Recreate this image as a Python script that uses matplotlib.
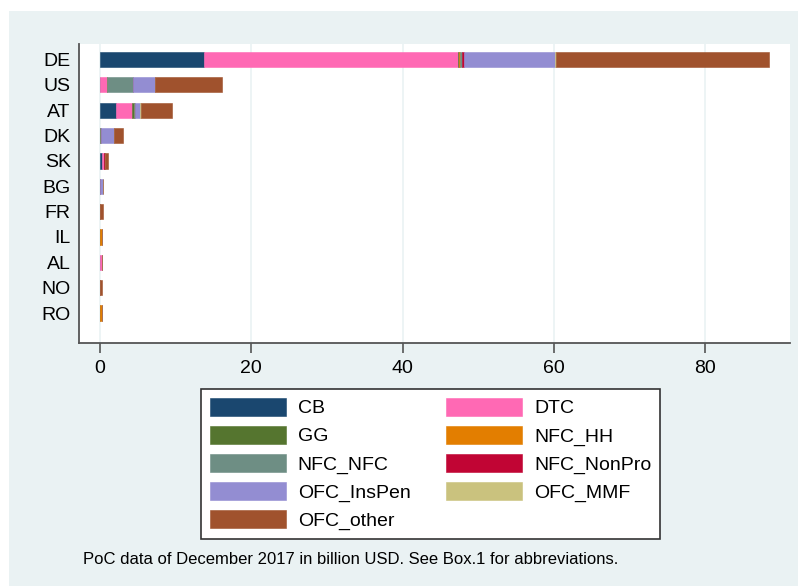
import matplotlib
matplotlib.use("Agg")
import matplotlib.pyplot as plt
from matplotlib.patches import Rectangle, Patch
import numpy as np

plt.rcParams['font.family'] = ['Liberation Sans', 'DejaVu Sans']

countries = ['DE', 'US', 'AT', 'DK', 'SK', 'BG', 'FR', 'IL', 'AL', 'NO', 'RO']

CB         = [13.7, 0.0, 2.1, 0.0, 0.2, 0.0, 0.0, 0.0, 0.0, 0.0, 0.0]
DTC        = [33.6, 0.9, 2.1, 0.0, 0.3, 0.0, 0.0, 0.0, 0.3, 0.0, 0.0]
GG         = [0.2, 0.0, 0.3, 0.0, 0.0, 0.0, 0.0, 0.0, 0.0, 0.0, 0.0]
NFC_HH     = [0.1, 0.0, 0.0, 0.0, 0.0, 0.0, 0.0, 0.3, 0.0, 0.0, 0.3]
NFC_NFC    = [0.3, 3.5, 0.1, 0.1, 0.0, 0.0, 0.0, 0.0, 0.0, 0.0, 0.0]
NFC_NonPro = [0.2, 0.0, 0.0, 0.0, 0.1, 0.0, 0.0, 0.0, 0.0, 0.0, 0.0]
OFC_InsPen = [12.1, 2.9, 0.7, 1.8, 0.1, 0.35, 0.0, 0.0, 0.0, 0.0, 0.0]
OFC_MMF    = [0.1, 0.0, 0.1, 0.0, 0.0, 0.0, 0.0, 0.0, 0.0, 0.0, 0.0]
OFC_other  = [28.2, 8.8, 4.1, 1.2, 0.3, 0.0, 0.35, 0.0, 0.0, 0.3, 0.0]

series_names = ['CB', 'DTC', 'GG', 'NFC_HH', 'NFC_NFC', 'NFC_NonPro',
                'OFC_InsPen', 'OFC_MMF', 'OFC_other']
series_values = [CB, DTC, GG, NFC_HH, NFC_NFC, NFC_NonPro,
                 OFC_InsPen, OFC_MMF, OFC_other]
series_colors = ['#1a476f', '#ff69b4', '#55752f', '#e37e00', '#6e8e84',
                 '#c10534', '#938dd2', '#cac27e', '#a0522d']

xticks = [0, 20, 40, 60, 80]
note = "PoC data of December 2017 in billion USD. See Box.1 for abbreviations."

W, H = 798, 586
BG = '#eaf2f3'
fig = plt.figure(figsize=(W / 100, H / 100), dpi=100, facecolor='white')

# light graph region behind everything
fig.patches.append(Rectangle((9 / W, 0), 1 - 9 / W, (H - 11) / H,
                             transform=fig.transFigure, facecolor=BG,
                             edgecolor='none', zorder=-10))

ax = fig.add_axes([79 / W, (H - 343) / H, (790 - 79) / W, (343 - 44) / H])
ax.set_zorder(1)
ax.set_facecolor('white')

ypos = np.arange(len(countries))
left = np.zeros(len(countries))
for name, vals, col in zip(series_names, series_values, series_colors):
    v = np.array(vals, dtype=float)
    ax.barh(ypos, v, left=left, height=0.6, color=col, edgecolor=col,
            linewidth=0.4, zorder=3)
    left += v

ax.set_ylim(11.18, -0.61)
ax.set_xlim(-2.78, 91.24)
ax.set_yticks(ypos)
ax.set_yticklabels(countries, fontsize=14)
ax.set_xticks(xticks)
ax.set_xticklabels([str(t) for t in xticks], fontsize=14)
ax.tick_params(axis='y', length=0, pad=6)
ax.tick_params(axis='x', length=7, width=1.2, color='#555555', pad=5)
ax.xaxis.grid(True, color=BG, linewidth=1.2, zorder=0)
ax.set_axisbelow(True)
for s in ['top', 'right']:
    ax.spines[s].set_visible(False)
for s in ['left', 'bottom']:
    ax.spines[s].set_color('#555555')
    ax.spines[s].set_linewidth(1.3)

# legend, filled row by row: two columns
order = [0, 2, 4, 6, 8, 1, 3, 5, 7]
handles = [Patch(facecolor=series_colors[i], edgecolor=series_colors[i],
                 linewidth=0.4) for i in order]
labels = [series_names[i] for i in order]
leg = fig.legend(handles, labels, ncol=2, loc='upper left',
                 bbox_to_anchor=(201 / W, 1 - 389 / H),
                 bbox_transform=fig.transFigure, fontsize=14,
                 frameon=True, fancybox=False, borderaxespad=0,
                 handlelength=3.9, handleheight=1.03, handletextpad=0.62,
                 columnspacing=1.85, labelspacing=0.44, borderpad=0.45)
leg.get_frame().set_edgecolor('#333333')
leg.get_frame().set_linewidth(1.2)
leg.get_frame().set_facecolor('white')
leg.get_frame().set_alpha(1)
leg.set_zorder(2)

fig.text(83 / W, 1 - 564 / H, note, fontsize=12, va='baseline', ha='left')

fig.savefig('out.png', dpi=100, facecolor='white')
